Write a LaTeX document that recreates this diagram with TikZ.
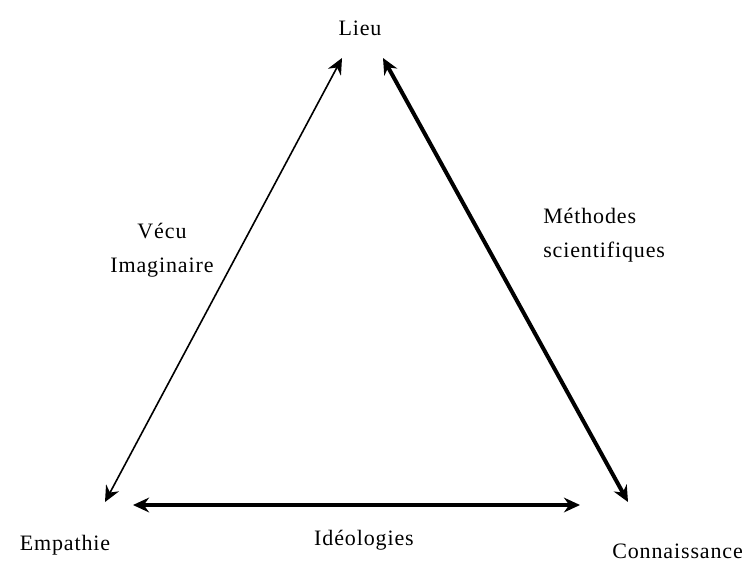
\documentclass[tikz,border=0pt]{standalone}
\usepackage{fontspec}
\setmainfont{Liberation Serif}[LetterSpace=4]
\usetikzlibrary{arrows.meta}
\begin{document}
\begin{tikzpicture}[x=0.75pt,y=-0.75pt,>={Stealth[length=12pt,width=11pt]},
	every node/.style={font=\fontsize{16.5}{25.5}\selectfont},
	pole/.style={inner sep=0pt},
	lien/.style={<->,line width=3pt}]
		\useasboundingbox (0,0) rectangle (752,561);
		% sommets
		\node[pole] (lieu) at (360,28) {Lieu};
		\node[pole] (empathie) at (65,545) {Empathie};
		\node[pole,anchor=west] (connaissance) at (612,551) {Connaissance};
		\coordinate (haut1) at (342,58);
		\coordinate (haut2) at (383,58);
		\coordinate (gauche1) at (105,502);
		\coordinate (gauche2) at (133,505);
		\coordinate (droite1) at (580,505);
		\coordinate (droite2) at (628,502);
		% liens
		\draw[<->,line width=1.2pt] (gauche1) -- (haut1);
		\draw[lien] (haut2) -- (droite2);
		\draw[lien] (gauche2) -- (droite1);
		\node[pole,align=center] (vecu) at (162,250) {Vécu\\Imaginaire};
		\node[pole,align=left,anchor=west] (methodes) at (543,235) {Méthodes\\scientifiques};
		\node[pole] (ideologies) at (364,540) {Idéologies};
\end{tikzpicture}
\end{document}
